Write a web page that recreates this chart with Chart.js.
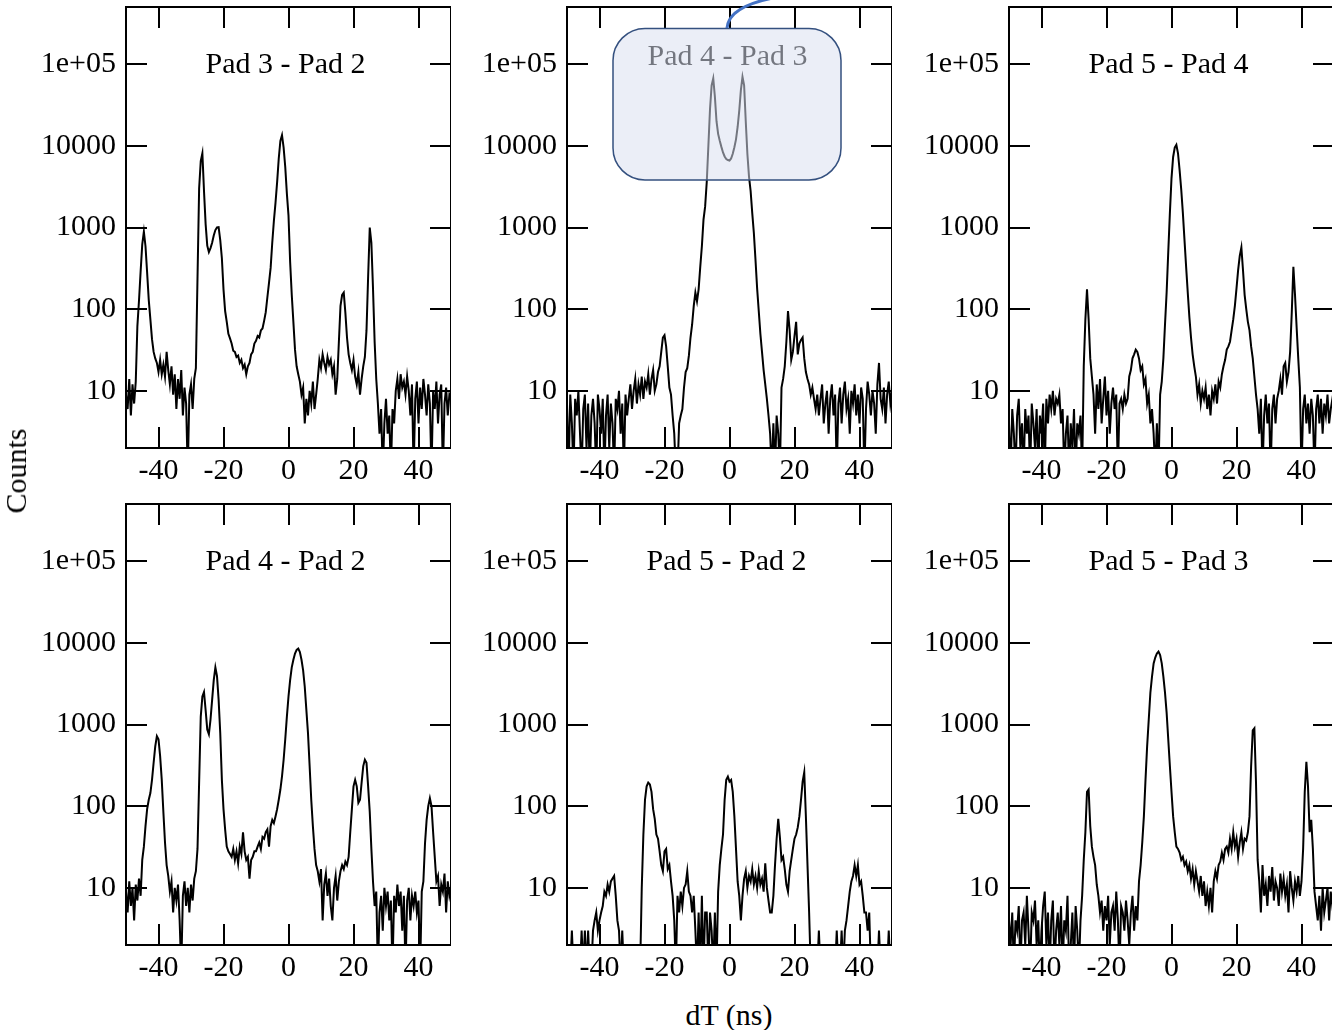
<!DOCTYPE html>
<html>
<head>
<meta charset="utf-8">
<script src="https://cdn.jsdelivr.net/npm/chart.js@4/dist/chart.umd.min.js"></script>
<style>
  body { margin: 0; width: 1332px; height: 1030px; overflow: hidden; background: #fff; position: relative; font-family: "Liberation Serif", serif; }
  canvas { position: absolute; }
  .axis-label { position: absolute; font-size: 30px; color: #000; white-space: nowrap; transform: translate(-50%, -50%); }
</style>
</head>
<body>
<canvas id="c0" width="451" height="490" style="left:0px;top:0px"></canvas>
<canvas id="c1" width="451" height="490" style="left:441px;top:0px"></canvas>
<canvas id="c2" width="451" height="490" style="left:883px;top:0px"></canvas>
<canvas id="c3" width="451" height="490" style="left:0px;top:497px"></canvas>
<canvas id="c4" width="451" height="490" style="left:441px;top:497px"></canvas>
<canvas id="c5" width="451" height="490" style="left:883px;top:497px"></canvas>
<div class="axis-label" style="left:16px;top:471px;transform:translate(-50%,-50%) rotate(-90deg)">Counts</div>
<div class="axis-label" style="left:729px;top:1015px">dT (ns)</div>
<script>
// time difference histograms, 0.5 ns bins from -50 to 50 ns
const binStart = -50;
const binWidth = 0.5;
const dT = Array.from({ length: 201 }, (_, i) => binStart + i * binWidth);

const xTicks = [-40, -20, 0, 20, 40];
const yTicks = [10, 100, 1000, 10000, 100000];
const yTickLabels = ['10', '100', '1000', '10000', '1e+05'];

const titles = ['Pad 3 - Pad 2', 'Pad 4 - Pad 3', 'Pad 5 - Pad 4', 'Pad 4 - Pad 2', 'Pad 5 - Pad 2', 'Pad 5 - Pad 3'];

const pad32 = [
  9,6,14,5,12,7,13,62,128,290,620,890,590,280,130,75,43,30,25,22,
  17,24,16,21,15,30,18,12,20,9,16,6,14,8,18,5,11,7,1,9,
  12,6,14,19,240,3000,6500,8100,2800,1100,600,500,560,650,800,930,1000,1010,700,420,
  175,95,70,50,44,38,31,30,26,27,22,24,19,21,16,20,22,28,30,38,
  41,47,45,55,58,72,92,140,210,320,650,1200,2000,3600,7000,11500,13500,9500,5500,2600,
  1400,380,150,70,32,20,16,13,9,11,4,8,5,10,7,13,6,9,14,24,
  19,28,22,18,26,21,24,16,20,9,14,40,110,150,160,90,45,28,22,18,
  24,15,12,17,9,14,20,26,55,250,1000,650,180,40,14,7,3,6,1,4,
  8,3,5,1,6,4,10,14,8,16,11,13,9,15,10,5,12,1,8,13,
  4,11,6,14,9,5,12,7,1,10,6,13,4,9,12,1,7,11,5,9,
  8
];
const pad43 = [
  7,1,9,4,1,8,5,10,3,1,6,9,2,7,1,5,8,4,1,9,
  6,3,8,1,5,9,2,7,4,1,8,6,10,3,7,1,9,5,8,12,
  6,10,14,7,12,9,15,8,13,11,16,9,14,18,10,12,17,20,30,45,
  48,35,20,11,9,5,3,1,1,4,5,6,11,17,19,27,45,65,110,160,
  125,175,330,590,1250,1800,3600,10000,28000,55000,67000,40000,20000,14000,11500,9700,8300,7400,6900,6700,
  6600,7000,8000,9600,12000,17000,27000,48000,70000,55000,20000,8000,4200,2800,1500,850,400,180,95,50,
  30,18,12,8,5,3,1,4,1,5,3,1,11,14,20,40,95,55,24,30,
  47,70,28,38,42,45,25,17,14,12,9,11,8,6,9,5,8,12,4,7,
  10,3,8,12,5,9,1,7,11,4,9,13,6,8,3,10,7,12,5,9,
  4,11,8,1,6,13,9,5,10,7,3,12,22,8,6,11,4,9,13,7,
  10
];
const pad54 = [
  4,1,6,3,1,5,8,2,4,1,6,3,5,1,7,4,2,6,1,5,
  3,7,1,8,4,9,6,10,5,8,7,9,4,6,1,3,5,1,4,2,
  6,1,4,3,5,1,20,75,175,75,25,15,9,3,12,6,14,4,8,15,
  5,10,3,7,11,6,9,1,7,8,6,9,7,8,15,18,25,28,32,30,
  25,18,20,12,14,7,9,4,6,3,1,4,1,9,13,25,65,160,500,1500,
  4000,7300,9500,10300,8100,5000,2900,1500,700,330,160,80,45,28,20,15,9,12,7,10,
  8,11,6,9,5,10,8,12,7,13,11,16,20,24,32,35,40,55,75,110,
  180,300,450,570,300,150,100,70,55,35,25,15,9,6,3,8,1,5,9,4,
  7,1,6,9,4,8,10,14,9,20,22,13,17,30,90,330,150,60,25,11,
  1,6,9,4,7,3,8,5,1,6,9,4,8,3,7,5,9,4,6,8,
  5
];
const pad42 = [
  9,5,12,6,10,4,11,7,13,8,22,32,57,92,120,145,210,340,540,720,
  660,410,210,85,36,19,14,9,12,5,10,7,11,4,1,8,12,6,10,5,
  11,7,13,16,30,195,1250,2200,2500,1500,870,760,1150,2000,3500,5000,3900,2000,780,210,
  92,52,32,28,26,24,30,22,28,20,32,26,48,28,22,24,13,22,24,28,
  28,32,36,30,42,40,48,52,32,57,68,62,75,92,120,160,232,370,660,1250,
  2200,3500,5000,6200,7400,8200,8500,7700,6200,4600,2900,1500,780,310,120,57,30,19,16,12,
  17,4,11,15,8,13,6,4,10,14,7,12,16,19,17,21,19,24,48,92,
  175,210,175,110,120,195,310,370,340,175,85,30,12,6,9,1,5,8,3,10,
  6,9,4,7,1,8,5,11,6,9,3,8,1,7,10,4,8,6,9,5,
  7,1,9,12,35,68,100,125,100,48,24,12,14,6,11,9,15,5,12,8,
  10
];
const pad52 = [
  1,1,1,3,1,1,1,1,1,3,1,3,1,3,1,1,3,4,5,3,
  4,5,6,9,8,11,9,12,13,14,8,4,3,1,3,1,1,1,1,1,
  1,1,1,1,1,1,10,45,120,175,195,185,150,92,70,45,40,28,19,16,
  28,30,17,19,12,8,4,1,8,5,9,6,10,11,16,9,8,5,8,3,
  1,5,1,8,1,5,5,1,5,3,1,5,1,9,19,30,45,120,210,230,
  200,210,150,75,30,12,8,4,8,13,16,10,14,12,17,11,14,10,16,11,
  13,9,20,10,7,5,5,8,19,40,70,42,22,24,17,11,9,16,22,30,
  40,45,55,75,120,200,260,75,19,5,1,1,1,1,1,3,1,1,1,1,
  1,1,1,1,1,1,3,1,1,3,1,3,4,6,9,12,14,19,14,19,
  11,12,8,5,5,3,5,1,1,1,1,1,3,1,1,1,1,1,3,1,
  1
];
const pad53 = [
  4,2,5,1,4,3,6,1,4,5,2,8,3,1,5,4,7,2,4,1,
  3,6,9,2,5,1,4,7,1,3,5,2,6,1,4,3,8,1,2,5,
  1,6,3,1,4,8,22,48,150,160,57,32,24,19,11,8,5,7,3,6,
  4,8,2,5,6,3,9,4,1,6,5,3,7,4,2,5,8,3,6,4,
  12,19,36,75,210,540,1150,2450,3850,5600,6600,7400,7800,7100,5600,3850,2450,1400,660,310,
  150,75,48,32,30,27,22,24,19,21,16,19,13,17,11,16,12,9,14,8,
  12,6,9,6,10,5,12,16,13,19,21,27,22,30,32,27,40,30,48,32,
  40,24,36,48,30,40,38,48,75,310,850,900,195,22,12,5,19,8,11,6,
  14,9,18,7,12,10,6,15,9,13,8,11,5,16,10,7,12,9,14,8,
  12,30,150,350,175,48,68,30,9,6,4,8,3,10,5,7,10,4,9,6,
  8
];

const series = [pad32, pad43, pad54, pad42, pad52, pad53];

Chart.defaults.font.family = '"Liberation Serif", serif';
Chart.defaults.font.size = 30;
Chart.defaults.color = '#000';

// frame, inward tick marks and the panel name
const framePlugin = {
  id: 'frame',
  afterDatasetsDraw(chart, args, opts) {
    const { ctx, chartArea: a, scales } = chart;
    ctx.save();
    ctx.strokeStyle = '#000';
    ctx.lineWidth = 2;
    ctx.beginPath();
    xTicks.forEach(v => {
      const px = Math.round(scales.x.getPixelForValue(v));
      ctx.moveTo(px, a.bottom); ctx.lineTo(px, a.bottom - 21);
      ctx.moveTo(px, a.top); ctx.lineTo(px, a.top + 21);
    });
    yTicks.forEach(v => {
      const py = Math.round(scales.y.getPixelForValue(v));
      ctx.moveTo(a.left, py); ctx.lineTo(a.left + 21, py);
      ctx.moveTo(a.right, py); ctx.lineTo(a.right - 21, py);
    });
    ctx.stroke();
    ctx.strokeRect(a.left, a.top, a.right - a.left, a.bottom - a.top);
    ctx.fillStyle = '#000';
    ctx.font = '30px "Liberation Serif", serif';
    ctx.textAlign = 'center';
    ctx.textBaseline = 'alphabetic';
    ctx.fillText(opts.text, (a.left + a.right) / 2 - opts.dx, a.top + opts.baseline);
    ctx.restore();
  }
};

// callout box over the Pad 4 - Pad 3 panel
const calloutPlugin = {
  id: 'callout',
  afterDraw(chart) {
    const ctx = chart.ctx;
    const ox = 441;
    ctx.save();
    ctx.beginPath();
    ctx.roundRect(613 - ox, 28.5, 228, 151.5, 32);
    ctx.fillStyle = 'rgba(217, 223, 240, 0.53)';
    ctx.fill();
    ctx.lineWidth = 1.5;
    ctx.strokeStyle = '#34507f';
    ctx.stroke();
    ctx.beginPath();
    ctx.moveTo(727 - ox, 28);
    ctx.quadraticCurveTo(729 - ox, 4, 785 - ox, -4);
    ctx.lineWidth = 3;
    ctx.strokeStyle = '#4472c4';
    ctx.stroke();
    ctx.restore();
  }
};

function noEdgePadding(s) {
  s.paddingTop = 0;
  s.paddingBottom = 0;
  s.paddingLeft = 0;
  s.paddingRight = 0;
}

function makePanel(i) {
  const plugins = [framePlugin];
  if (i === 1) plugins.push(calloutPlugin);
  return new Chart(document.getElementById('c' + i), {
    type: 'line',
    data: {
      labels: dT,
      datasets: [{
        data: series[i],
        borderColor: '#000',
        borderWidth: 2,
        pointRadius: 0,
        tension: 0,
        fill: false,
        clip: 0
      }]
    },
    options: {
      responsive: false,
      animation: false,
      events: [],
      layout: { autoPadding: false, padding: { top: 7, left: 0, right: 0, bottom: 0 } },
      plugins: {
        legend: { display: false },
        tooltip: { enabled: false },
        frame: { text: titles[i], dx: i === 1 ? 2 : 3, baseline: i === 1 ? 58 : 66 }
      },
      scales: {
        x: {
          type: 'linear',
          min: -50,
          max: 50,
          grid: { display: false, drawTicks: false },
          border: { display: false },
          afterBuildTicks: s => { s.ticks = xTicks.map(v => ({ value: v })); },
          afterFit: s => { s.height = 42; noEdgePadding(s); },
          ticks: { padding: 5, autoSkip: false, maxRotation: 0, callback: v => String(v) }
        },
        y: {
          type: 'logarithmic',
          min: 2,
          max: 500000,
          grid: { display: false, drawTicks: false },
          border: { display: false },
          afterBuildTicks: s => { s.ticks = yTicks.map(v => ({ value: v })); },
          afterFit: s => { s.width = 126; noEdgePadding(s); },
          ticks: { padding: 10, autoSkip: false, callback: v => yTickLabels[yTicks.indexOf(v)] }
        }
      }
    },
    plugins
  });
}

for (let i = 0; i < 6; i++) makePanel(i);
</script>
</body>
</html>
